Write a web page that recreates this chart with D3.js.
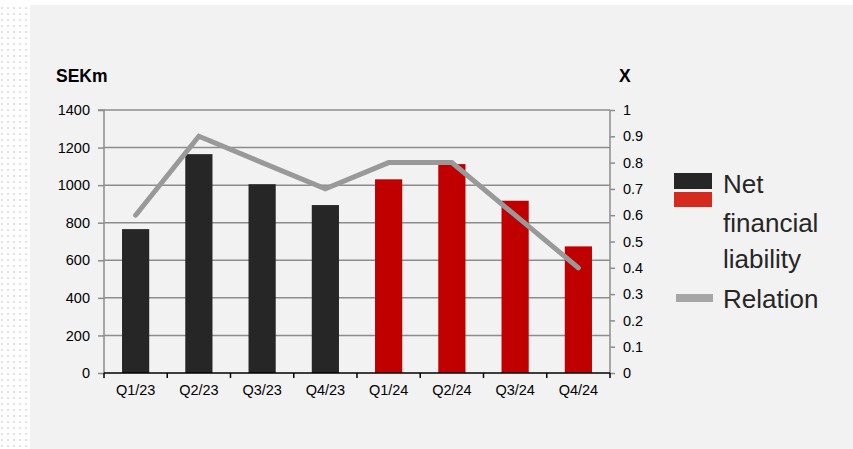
<!DOCTYPE html>
<html><head><meta charset="utf-8">
<script src="https://cdn.jsdelivr.net/npm/d3@7"></script>
<style>body{margin:0;background:#fff}svg{display:block;font-family:"Liberation Sans",Arial,sans-serif}</style>
</head><body>
<svg id="c" width="853" height="449"></svg>
<script>
const categories = ["Q1/23","Q2/23","Q3/23","Q4/23","Q1/24","Q2/24","Q3/24","Q4/24"];
const netFinancialLiability = [766, 1165, 1005, 894, 1031, 1112, 917, 674];
const barGroup = ["2023","2023","2023","2023","2024","2024","2024","2024"];
const relation = [0.6, 0.9, 0.8, 0.7, 0.8, 0.8, 0.6, 0.4];
const leftTicks = [0,200,400,600,800,1000,1200,1400];
const rightTicks = [0,0.1,0.2,0.3,0.4,0.5,0.6,0.7,0.8,0.9,1];

const svg = d3.select("#c");
const defs = svg.append("defs");
const pat = defs.append("pattern").attr("id","dots").attr("width",6).attr("height",6).attr("patternUnits","userSpaceOnUse");
pat.append("rect").attr("width",6).attr("height",6).attr("fill","#fff");
pat.append("rect").attr("x",1).attr("y",1).attr("width",2).attr("height",2).attr("fill","#e4e4e4");
svg.append("rect").attr("width",853).attr("height",449).attr("fill","url(#dots)");
svg.append("rect").attr("x",0).attr("y",0).attr("width",853).attr("height",5).attr("fill","#fff");
svg.append("rect").attr("x",30).attr("y",5).attr("width",823).attr("height",444).attr("fill","#f2f2f2");

const L=104, R=610, T=110, B=373;
const FS = 14.5;
const x = d3.scaleBand().domain(categories).range([L,R]).paddingInner(0.57).paddingOuter(0.285);
const xb = d3.scaleBand().domain(categories).range([L,R]);
const yL = d3.scaleLinear().domain([0,1400]).range([B,T]);
const yR = d3.scaleLinear().domain([0,1]).range([B,T]);

// gridlines
svg.append("g").selectAll("line").data(leftTicks.filter(d=>d>0)).join("line")
  .attr("x1",L).attr("x2",R).attr("y1",d=>yL(d)).attr("y2",d=>yL(d))
  .attr("stroke","#8c8c8c").attr("stroke-width",1.5);

// bars
svg.append("g").selectAll("rect").data(categories).join("rect")
  .attr("x",d=>x(d)).attr("width",x.bandwidth())
  .attr("y",(d,i)=>yL(netFinancialLiability[i])).attr("height",(d,i)=>B-yL(netFinancialLiability[i]))
  .attr("fill",(d,i)=>barGroup[i]==="2023"?"#262626":"#c00000");

// left axis
const gl = svg.append("g").attr("transform",`translate(${L},0)`)
  .call(d3.axisLeft(yL).tickValues(leftTicks).tickSize(6).tickPadding(8).tickFormat(d3.format("d")));
gl.selectAll("path,line").attr("stroke","#8c8c8c").attr("stroke-width",1.5);
gl.select(".domain").attr("d",`M-6,${T}H0V${B}`);
gl.selectAll("text").attr("font-size",FS).attr("fill","#000").attr("font-family","Liberation Sans, Arial, sans-serif");

// right axis
const gr = svg.append("g").attr("transform",`translate(${R},0)`)
  .call(d3.axisRight(yR).tickValues(rightTicks).tickSize(5).tickPadding(8).tickFormat(d=>String(+d.toFixed(1))));
gr.selectAll("path,line").attr("stroke","#8c8c8c").attr("stroke-width",1.5);
gr.select(".domain").attr("d",`M0,${T}V${B}`);
gr.selectAll("text").attr("font-size",FS).attr("fill","#000").attr("font-family","Liberation Sans, Arial, sans-serif");

// bottom axis
const gb = svg.append("g").attr("transform",`translate(0,${B})`)
  .call(d3.axisBottom(xb).tickSize(0).tickPadding(12));
gb.select(".domain").attr("stroke","#000").attr("stroke-width",1.5).attr("d",`M${L},0H${R}`);
gb.selectAll("text").attr("font-size",FS).attr("fill","#000").attr("font-family","Liberation Sans, Arial, sans-serif");
gb.append("g").selectAll("line").data(d3.range(categories.length+1)).join("line")
  .attr("x1",i=>L+i*xb.step()).attr("x2",i=>L+i*xb.step()).attr("y1",0).attr("y2",5)
  .attr("stroke","#000").attr("stroke-width",1.5);

// line
const line = d3.line().x((d,i)=>xb(categories[i])+xb.bandwidth()/2).y(d=>yR(d));
svg.append("path").datum(relation).attr("d",line).attr("fill","none")
  .attr("stroke","#999999").attr("stroke-width",5).attr("stroke-linecap","round").attr("stroke-linejoin","miter");

// axis titles
svg.append("text").attr("x",56).attr("y",82).attr("font-size",17.5).attr("font-weight","bold").text("SEKm");
svg.append("text").attr("x",619).attr("y",82).attr("font-size",17.5).attr("font-weight","bold").text("X");

// legend
svg.append("rect").attr("x",674).attr("y",173).attr("width",38).attr("height",16).attr("fill","#262626");
svg.append("rect").attr("x",674).attr("y",192).attr("width",38).attr("height",15).attr("fill","#d52b1e");
svg.append("line").attr("x1",676).attr("x2",713).attr("y1",298).attr("y2",298).attr("stroke","#a6a6a6").attr("stroke-width",8);
const lt = svg.append("g").attr("font-size",26).attr("fill","#262626");
[["Net",193],["financial",232],["liability",268],["Relation",308]].forEach(([t,y])=>{
  lt.append("text").attr("x",723).attr("y",y).attr("fill","#262626").text(t);
});
</script>
</body></html>
